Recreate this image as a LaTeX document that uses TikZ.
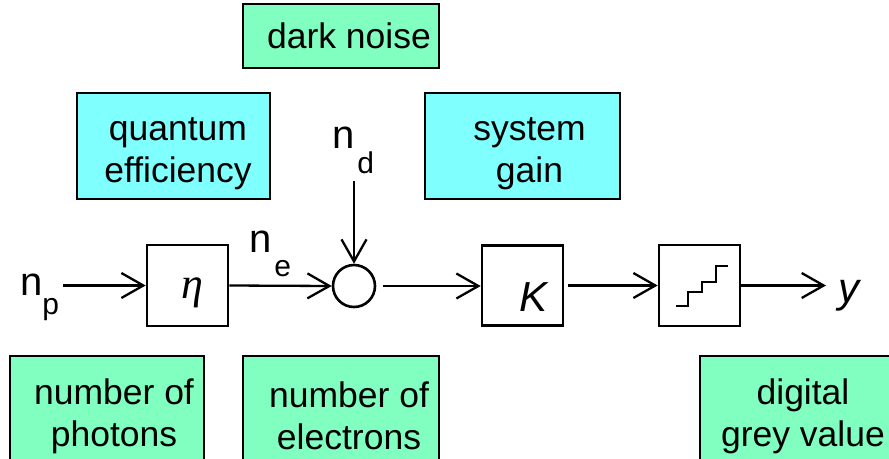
\documentclass[tikz,border=0pt]{standalone}
\usepackage{fontspec}
\setmainfont{Liberation Sans}
\newfontfamily\gkfont{Liberation Serif}
\usetikzlibrary{arrows.meta,calc}
\definecolor{lgreen}{RGB}{128,255,192}
\definecolor{lcyan}{RGB}{128,255,255}
\newcommand\nsub[3]{{\fontsize{40}{40}\selectfont n}\kern#3pt\raisebox{-#2pt}{\fontsize{30}{30}\selectfont #1}}
\newcommand\rs[1]{\hspace*{#1pt}}
\begin{document}
\begin{tikzpicture}[x=1pt,y=-1pt,
  lbl/.style={draw=black, line width=2.2pt, align=center, inner sep=0,
    font=\fontsize{35.5}{42}\selectfont},
  blk/.style={draw=black, line width=2.6pt, inner sep=0},
  arr/.style={line width=2.3pt, -{Straight Barb[length=22pt,width=25pt,line width=2.3pt]}},
  sym/.style={inner sep=0, anchor=base west},
]
\useasboundingbox (0,0) rectangle (889,458);
% label boxes
\node[lbl, fill=lgreen, minimum width=196pt, minimum height=64pt] (dark) at (341,36) {\rs{16}dark noise};
\node[lbl, fill=lcyan, minimum width=193pt, minimum height=106pt] (qe) at (173.5,146) {\rule{0pt}{38pt}\rs{9}quantum\\\rs{9}efficiency};
\node[lbl, fill=lcyan, minimum width=195pt, minimum height=106pt] (sg) at (522.5,146) {\rule{0pt}{38pt}\rs{14}system\\\rs{14}gain};
\node[lbl, fill=lgreen, minimum width=194pt, minimum height=120pt] (nph) at (107,416) {\rs{14}number of\\\rs{14}photons};
\node[lbl, fill=lgreen, minimum width=196pt, minimum height=120pt] (nel) at (341,416) {\rs{16}number of\\\rs{16}electrons};
\node[lbl, fill=lgreen, minimum width=206pt, minimum height=120pt] (dgv) at (803,416) {digital\\grey value};
% blocks
\node[blk, minimum width=81pt, minimum height=81pt] (eta) at (187.5,285.5) {};
\node[blk, circle, minimum size=42pt] (sum) at (354,286) {};
\node[blk, minimum width=81pt, minimum height=80pt] (K) at (522.5,285.5) {};
\node[blk, minimum width=81pt, minimum height=81pt] (q) at (699.5,285.5) {};
\draw[line width=2.8pt] (676,306) -- (688,306) -- (688,292) -- (702,292) -- (702,282) -- (716,282) -- (716,266) -- (728,266);
% symbols
\node[inner sep=0, anchor=base, font=\fontsize{44}{44}\gkfont\itshape] (etalab) at (192.5,298) {η};
\node[inner sep=0, anchor=base, font=\fontsize{42}{42}\selectfont\itshape] (Klab) at (534,311) {K};
\node[sym] (np) at (20,295) {\nsub{p}{19}{0}};
\node[sym] (ne) at (249,252) {\nsub{e}{24}{3}};
\node[sym] (nd) at (332,148) {\nsub{d}{25}{3}};
\node[sym, font=\fontsize{42}{42}\selectfont\itshape] (ylab) at (838,302) {y};
% connectors
\draw[arr, shorten <=4pt] (np.east |- eta.west) -- (eta.west);
\draw[arr] (eta.east) -- (sum.west);
\draw[arr, shorten <=8pt] (sum |- nd.south) -- (sum.north);
\draw[arr, shorten <=7pt] (sum.east) -- (K.west |- sum.east);
\draw[arr, shorten <=4pt] (K.east) -- (q.west);
\draw[arr, shorten >=12pt] (q.east) -- (q.east -| ylab.west);
\end{tikzpicture}
\end{document}
